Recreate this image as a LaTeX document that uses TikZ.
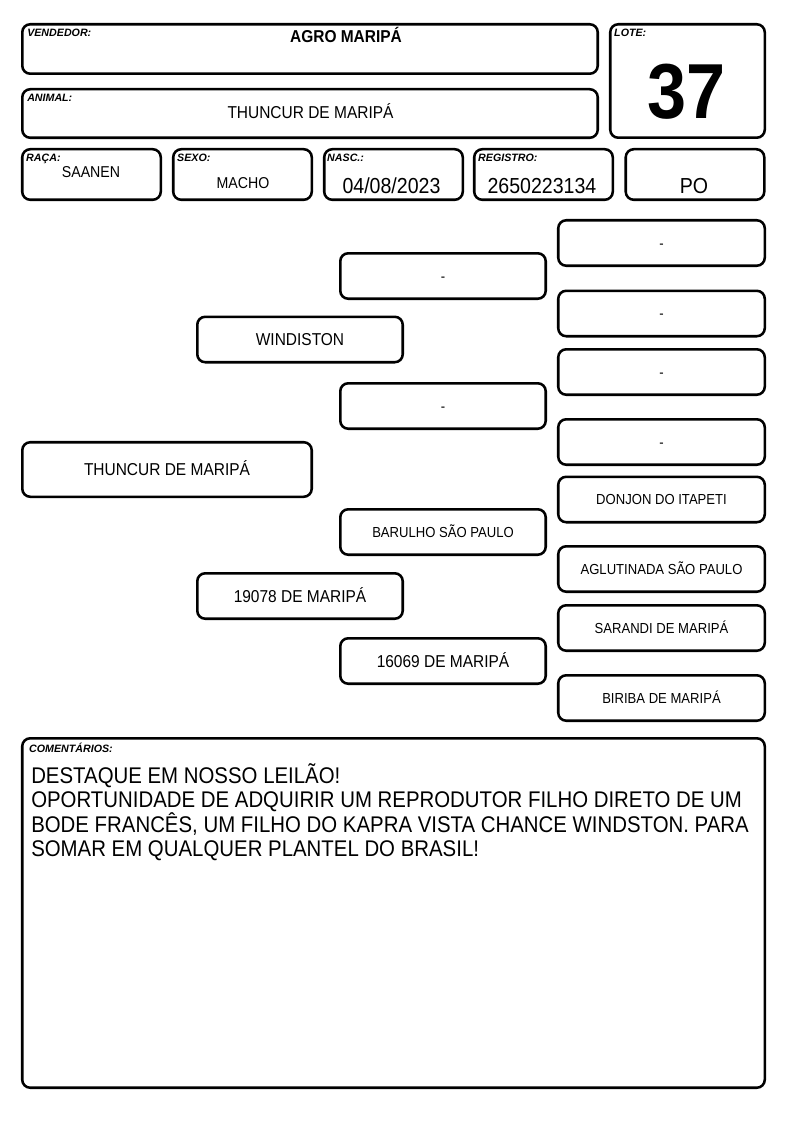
\documentclass[tikz,border=0pt]{standalone}
\usepackage{fontspec}
\setmainfont{Liberation Sans}[FakeStretch=0.9]
\newfontfamily\tagfont{Liberation Sans}

\tikzset{
  cell/.style={draw, line width=1.9pt, rounded corners=6pt, inner sep=0pt},
  tag/.style={anchor=north west, inner sep=0pt, font=\tagfont\bfseries\itshape\fontsize{8}{9}\selectfont},
  value/.style={anchor=base, inner sep=0pt},
  bigname/.style={cell, minimum width=154.1pt, minimum height=34.1pt, text height=9.2pt, text depth=0pt, font=\fontsize{12.9}{14}\selectfont},
  smallname/.style={bigname, text height=7.8pt, font=\fontsize{10.9}{12}\selectfont},
  outer/.style={minimum width=154.9pt}
}

\begin{document}
\begin{tikzpicture}[x=0.75pt,y=-0.75pt]
\useasboundingbox (0,0) rectangle (794,1123);

% header
\node[cell, minimum width=431.6pt, minimum height=37.1pt] (vendedor) at (310,49) {};
\node[cell, minimum width=431.6pt, minimum height=36.4pt] (animal) at (310,113.5) {};
\node[cell, minimum width=115.9pt, minimum height=85.1pt] (lote) at (687.5,81) {};
\node[tag] (vendtag) at ([shift={(6,6)}]vendedor.north west) {VENDEDOR:};
\node[tag] (animtag) at ([shift={(6,6)}]animal.north west) {ANIMAL:};
\node[tag] (lotetag) at ([shift={(5,6)}]lote.north west) {LOTE:};
\node[value, font=\bfseries\fontsize{12.9}{14}\selectfont] (vendname) at (346,43) {AGRO MARIPÁ};
\node[value, font=\fontsize{12.9}{14}\selectfont] (animname) at (310.5,119) {THUNCUR DE MARIPÁ};
\node[value, font=\bfseries\fontsize{58.5}{60}\selectfont] (lotenum) at (687,119) {37};

% second row
\node[cell, minimum width=103.9pt, minimum height=37.9pt] (raca) at (91.5,174.5) {};
\node[cell, minimum width=103.9pt, minimum height=37.9pt] (sexo) at (242.5,174.5) {};
\node[cell, minimum width=103.9pt, minimum height=37.9pt] (nasc) at (393.5,174.5) {};
\node[cell, minimum width=103.9pt, minimum height=37.9pt] (registro) at (543.5,174.5) {};
\node[cell, minimum width=103.9pt, minimum height=37.9pt] (po) at (695,174.5) {};
\node[tag] (racatag) at ([shift={(5,6)}]raca.north west) {RAÇA:};
\node[tag] (sexotag) at ([shift={(5,6)}]sexo.north west) {SEXO:};
\node[tag] (nasctag) at ([shift={(4,6)}]nasc.north west) {NASC.:};
\node[tag] (registag) at ([shift={(5,6)}]registro.north west) {REGISTRO:};
\node[value, font=\fontsize{11.8}{13}\selectfont] (racaval) at (91,178) {SAANEN};
\node[value, font=\fontsize{11.8}{13}\selectfont] (sexoval) at (243,189) {MACHO};
\node[value, font=\fontsize{16.3}{18}\selectfont] (nascval) at (391.5,194) {04/08/2023};
\node[value, font=\fontsize{16.3}{18}\selectfont] (regval) at (542,194) {2650223134};
\node[value, font=\fontsize{16.3}{18}\selectfont] (poval) at (694,194) {PO};

% pedigree
\node[bigname, minimum width=217.1pt, minimum height=40.9pt] (animalbox) at (167,469.5) {THUNCUR DE MARIPÁ};

\node[bigname] (pai) at (300,339.5) {WINDISTON};
\node[bigname] (mae) at (300,596) {19078 DE MARIPÁ};

\node[smallname] (avopp) at (443,276) {-};
\node[smallname] (avopm) at (443,406) {-};
\node[smallname] (avomp) at (443,532) {BARULHO SÃO PAULO};
\node[bigname] (avomm) at (443,661) {16069 DE MARIPÁ};

\node[smallname, outer] (bis1) at (661.5,243) {-};
\node[smallname, outer] (bis2) at (661.5,313.5) {-};
\node[smallname, outer] (bis3) at (661.5,372) {-};
\node[smallname, outer] (bis4) at (661.5,442) {-};
\node[smallname, outer] (bis5) at (661.5,499.5) {DONJON DO ITAPETI};
\node[smallname, outer] (bis6) at (661.5,569) {AGLUTINADA SÃO PAULO};
\node[smallname, outer] (bis7) at (661.5,628) {SARANDI DE MARIPÁ};
\node[smallname, outer] (bis8) at (661.5,698) {BIRIBA DE MARIPÁ};

% comments
\node[cell, minimum width=556.9pt, minimum height=262.1pt] (coment) at (393.5,913) {};
\node[tag] (comtag) at ([shift={(8,6)}]coment.north west) {COMENTÁRIOS:};
\node[anchor=north west, inner sep=0pt, align=left, font=\fontsize{17}{18}\selectfont] (comtext) at (31,763)
  {DESTAQUE EM NOSSO LEILÃO!\\
   OPORTUNIDADE DE ADQUIRIR UM REPRODUTOR FILHO DIRETO DE UM\\
   BODE FRANCÊS, UM FILHO DO KAPRA VISTA CHANCE WINDSTON. PARA\\
   SOMAR EM QUALQUER PLANTEL DO BRASIL!};

\end{tikzpicture}
\end{document}
